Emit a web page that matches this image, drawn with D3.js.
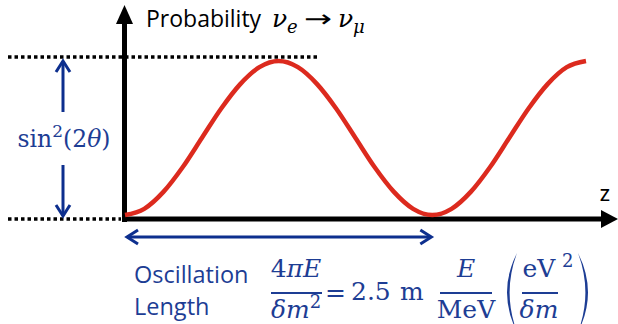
<!DOCTYPE html>
<html><head><meta charset="utf-8">
<script src="https://cdn.jsdelivr.net/npm/d3@7"></script>
<style>html,body{margin:0;padding:0;background:#fff;}svg{display:block;}</style>
</head><body>
<script>
// Data: distance in units of oscillation length, probability in units of sin²(2θ)
const zValues = [0, 0.0625, 0.125, 0.1875, 0.25, 0.3125, 0.375, 0.4375, 0.5, 0.5625, 0.625, 0.6875, 0.75, 0.8125, 0.875, 0.9375, 1, 1.0625, 1.125, 1.1875, 1.25, 1.3125, 1.375, 1.4375, 1.5];
const probValues = [0, 0.04, 0.15, 0.31, 0.5, 0.69, 0.85, 0.96, 1, 0.96, 0.85, 0.69, 0.5, 0.31, 0.15, 0.04, 0, 0.04, 0.15, 0.31, 0.5, 0.69, 0.85, 0.96, 1];
const titleText = "Probability";
const axisLabel = "Z";
const lengthLabel = ["Oscillation", "Length"];

const W = 618, H = 324;
const BLUE = "#1d3d94", ARROW = "#0d2f8e", RED = "#dc2a1e";
const SANS = "'Open Sans', sans-serif", SERIF = "'DejaVu Serif', serif";
const MS = 25; // math font size
const SUB = 18;

const svg = d3.select("body").append("svg").attr("width", W).attr("height", H);

const x = d3.scaleLinear().domain([0, 1.5]).range([125, 586]);
const y = d3.scaleLinear().domain([0, 1]).range([215, 61]);
const axisY = 219, axisX = 124.5;

// dotted reference lines
svg.append("line").attr("x1", 8).attr("x2", 318).attr("y1", 57).attr("y2", 57)
  .attr("stroke", "#000").attr("stroke-width", 3.5).attr("stroke-dasharray", "3.5,3");
svg.append("line").attr("x1", 8).attr("x2", 121).attr("y1", axisY).attr("y2", axisY)
  .attr("stroke", "#000").attr("stroke-width", 3.5).attr("stroke-dasharray", "3.5,3");

// axes
svg.append("line").attr("x1", axisX).attr("x2", axisX).attr("y1", axisY + 3).attr("y2", 22)
  .attr("stroke", "#000").attr("stroke-width", 5);
svg.append("path").attr("d", `M${axisX},5 L${axisX - 8.5},24 L${axisX + 8.5},24 Z`).attr("fill", "#000");
svg.append("line").attr("x1", axisX - 2.5).attr("x2", 604).attr("y1", axisY).attr("y2", axisY)
  .attr("stroke", "#000").attr("stroke-width", 5);
svg.append("path").attr("d", `M618,${axisY} L601,${axisY - 9} L601,${axisY + 9} Z`).attr("fill", "#000");

// curve
const pts = zValues.map((z, i) => [z, probValues[i]]);
svg.append("path").datum(pts)
  .attr("d", d3.line().x(d => x(d[0])).y(d => y(d[1])).curve(d3.curveMonotoneX))
  .attr("fill", "none").attr("stroke", RED).attr("stroke-width", 4.5).attr("stroke-linecap", "butt");

// blue arrows
function chevron(tx, ty, dir) {
  const L = 11, Wd = 7;
  let d;
  if (dir === "left") d = `M${tx + L},${ty - Wd} L${tx},${ty} L${tx + L},${ty + Wd}`;
  if (dir === "right") d = `M${tx - L},${ty - Wd} L${tx},${ty} L${tx - L},${ty + Wd}`;
  if (dir === "up") d = `M${tx - Wd},${ty + L} L${tx},${ty} L${tx + Wd},${ty + L}`;
  if (dir === "down") d = `M${tx - Wd},${ty - L} L${tx},${ty} L${tx + Wd},${ty - L}`;
  svg.append("path").attr("d", d).attr("fill", "none").attr("stroke", ARROW)
    .attr("stroke-width", 3).attr("stroke-linejoin", "miter");
}
const oy = 237;
svg.append("line").attr("x1", x(0) + 2).attr("x2", x(1) - 2).attr("y1", oy).attr("y2", oy)
  .attr("stroke", ARROW).attr("stroke-width", 3);
chevron(x(0) + 2, oy, "left");
chevron(x(1) - 1, oy, "right");

svg.append("line").attr("x1", 63).attr("x2", 63).attr("y1", 112).attr("y2", 61)
  .attr("stroke", ARROW).attr("stroke-width", 3);
chevron(63, 61, "up");
svg.append("line").attr("x1", 63).attr("x2", 63).attr("y1", 165).attr("y2", 216)
  .attr("stroke", ARROW).attr("stroke-width", 3);
chevron(63, 216, "down");

// title
svg.append("text").attr("x", 146).attr("y", 27).attr("font-family", SANS).attr("font-size", 23)
  .attr("fill", "#000").text(titleText);
function mt(xp, yp, str, opts = {}) {
  return svg.append("text").attr("x", xp).attr("y", yp).attr("font-family", opts.family || SERIF)
    .attr("font-size", opts.size || MS).attr("font-style", opts.italic ? "italic" : "normal")
    .attr("text-anchor", opts.anchor || "start").attr("fill", opts.fill || BLUE).text(str);
}
mt(272, 27, "ν", {italic: true, fill: "#000"});
mt(287, 33, "e", {italic: true, size: SUB, fill: "#000"});
mt(304, 27, "→", {fill: "#000", size: 24, family: "'DejaVu Sans', sans-serif"})
  .attr("textLength", 28).attr("lengthAdjust", "spacingAndGlyphs");
mt(338, 27, "ν", {italic: true, fill: "#000"});
mt(353, 33, "μ", {italic: true, size: SUB, fill: "#000"});

// Z label
svg.append("text").attr("x", 605).attr("y", 201).attr("text-anchor", "middle")
  .attr("font-family", SANS).attr("font-size", 17).attr("font-weight", 600).attr("fill", "#000").text(axisLabel);

// sin^2(2θ)
const s = svg.append("text").attr("x", 64).attr("y", 147).attr("text-anchor", "middle")
  .attr("font-family", SERIF).attr("font-size", 23.5).attr("fill", BLUE);
s.append("tspan").text("sin");
s.append("tspan").attr("dy", -10).attr("font-size", 17).text("2");
s.append("tspan").attr("dy", 10).text("(2");
s.append("tspan").attr("font-style", "italic").text("θ");
s.append("tspan").text(")");

// Oscillation Length
svg.append("text").attr("x", 134).attr("y", 283).attr("font-family", SANS).attr("font-size", 23.5)
  .attr("fill", BLUE).text(lengthLabel[0]);
svg.append("text").attr("x", 134).attr("y", 315).attr("font-family", SANS).attr("font-size", 23.5)
  .attr("fill", BLUE).text(lengthLabel[1]);

// formula
function bar(x1, x2, yb) {
  svg.append("line").attr("x1", x1).attr("x2", x2).attr("y1", yb).attr("y2", yb)
    .attr("stroke", BLUE).attr("stroke-width", 1.9);
}
// 4πE / δm²
const n1 = mt(296, 277, "", {anchor: "middle"});
n1.append("tspan").text("4");
n1.append("tspan").attr("font-style", "italic").text("πE");
bar(271, 322, 293);
const d1 = mt(296, 318, "", {anchor: "middle"});
d1.append("tspan").attr("font-style", "italic").text("δm");
d1.append("tspan").attr("dy", -10).attr("font-size", SUB).text("2");
mt(325, 301, "=");
mt(351, 300, "2.5");
mt(400, 300, "m");
// E / MeV
mt(466, 277, "E", {italic: true, anchor: "middle"});
bar(440, 492, 293);
mt(466, 318, "MeV", {anchor: "middle"});
// parentheses
function paren(xe, xm, y1, y2, thick) {
  const ym = (y1 + y2) / 2;
  const cOuter = 2 * xm - xe;
  const cInner = 2 * (xm + thick) - xe;
  svg.append("path").attr("d", `M${xe},${y1} Q${cOuter},${ym} ${xe},${y2} Q${cInner},${ym} ${xe},${y1} Z`)
    .attr("fill", BLUE);
}
paren(517, 507, 253, 332, 2.6);
paren(578, 588, 253, 332, -2.6);
// eV² / δm
mt(539, 277, "eV", {anchor: "middle"});
mt(562, 267, "2", {size: SUB});
bar(522, 558, 293);
mt(539, 318, "δm", {italic: true, anchor: "middle"});
</script>
</body></html>
